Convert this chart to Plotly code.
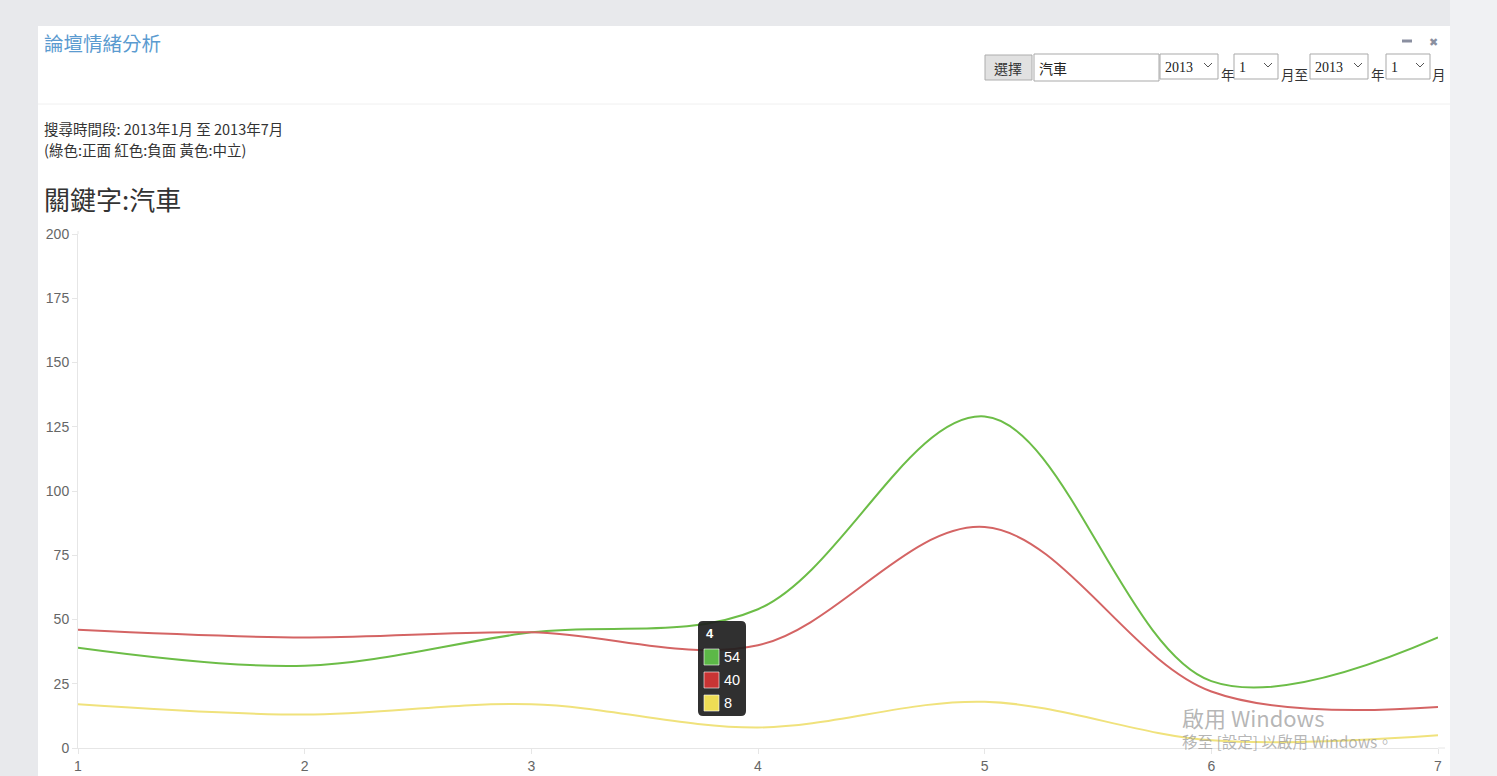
import plotly.graph_objects as go

# ---- data ----
months = [1, 2, 3, 4, 5, 6, 7]
positive = [39, 32, 45, 54, 129, 26, 43]   # green
negative = [46, 43, 45, 40, 86, 22, 16]    # red
neutral = [17, 13, 17, 8, 18, 3, 5]        # yellow
y_ticks = [0, 25, 50, 75, 100, 125, 150, 175, 200]
hover_month = 4

W, H = 1497, 776
L, R, T, B = 78, 1438, 234, 748  # plot area in pixels


def px(x):
    return (x - L) / (R - L)


def py(y):
    return (B - y) / (B - T)


GREEN = "#6cbd47"
RED = "#d46464"
YELLOW = "#f0e27c"

fig = go.Figure()
for vals, col, name in [(positive, GREEN, "正面"), (negative, RED, "負面"), (neutral, YELLOW, "中立")]:
    fig.add_trace(go.Scatter(
        x=months, y=vals, mode="lines", name=name,
        line=dict(color=col, width=2, shape="spline", smoothing=1.0),
        hoverinfo="skip",
    ))

shapes = []
annotations = []

# page background (lighter on the right of the panel)
shapes.append(dict(type="rect", xref="paper", yref="paper", layer="below",
                   x0=px(1450), x1=px(1497), y0=py(776), y1=py(0),
                   fillcolor="#f0f1f3", line=dict(width=0)))
# white panel
shapes.append(dict(type="rect", xref="paper", yref="paper", layer="below",
                   x0=px(38), x1=px(1450), y0=py(776), y1=py(26),
                   fillcolor="white", line=dict(width=0)))
# header separator
shapes.append(dict(type="line", xref="paper", yref="paper", layer="below",
                   x0=px(38), x1=px(1450), y0=py(104), y1=py(104),
                   line=dict(color="#f0f0f0", width=1)))
# axis line extensions
shapes.append(dict(type="line", xref="paper", yref="paper", layer="below",
                   x0=px(1438), x1=px(1445), y0=0, y1=0,
                   line=dict(color="#e6e6e6", width=1)))
shapes.append(dict(type="line", xref="paper", yref="paper", layer="below",
                   x0=0, x1=0, y0=1, y1=py(231),
                   line=dict(color="#e6e6e6", width=1)))

CJK = "Noto Sans CJK TC"


def text(x, y, s, size, color="#333", font=CJK, anchor="left"):
    annotations.append(dict(xref="paper", yref="paper", x=px(x), y=py(y), text=s,
                            showarrow=False, xanchor=anchor, yanchor="middle",
                            font=dict(size=size, color=color, family=font)))


# header
text(42, 42, "論壇情緒分析", 19.5, "#5b9bd0")
text(42, 128, "搜尋時間段: 2013年1月 至 2013年7月", 14.5, "#333")
text(42, 150, "(綠色:正面 紅色:負面 黃色:中立)", 14.5, "#333")
text(42, 198, "關鍵字:汽車", 26, "#333")

# minimize / close icons
shapes.append(dict(type="line", xref="paper", yref="paper",
                   x0=px(1402), x1=px(1412), y0=py(41), y1=py(41),
                   line=dict(color="#8a8fa0", width=3)))
text(1433, 42, "✖", 11, "#8a8fa0", "DejaVu Sans", "center")

# controls
def box(x0, y0, x1, y1, fill="white", border="#a9a9a9"):
    shapes.append(dict(type="rect", xref="paper", yref="paper",
                       x0=px(x0), x1=px(x1), y0=py(y1), y1=py(y0),
                       fillcolor=fill, line=dict(color=border, width=1)))


def chevron(cx, cy):
    shapes.append(dict(type="path", xref="paper", yref="paper",
                       path=f"M {px(cx-4)} {py(cy-2)} L {px(cx)} {py(cy+2)} L {px(cx+4)} {py(cy-2)}",
                       line=dict(color="#555", width=1)))


box(985, 55, 1032, 80, "#e1e1e1", "#adadad")
text(1008, 68, "選擇", 14, "#333", CJK, "center")
box(1034, 54, 1159, 81)
text(1037, 68, "汽車", 14, "#222")
for x0, x1, label in [(1160, 1218, "2013"), (1234, 1278, "1"), (1310, 1368, "2013"), (1386, 1430, "1")]:
    box(x0, 54, x1, 79)
    text(x0 + 3, 67, label, 14, "#222", "Liberation Serif")
    chevron(x1 - 10, 65)
text(1219, 74, "年", 13.5, "#333")
text(1279, 74, "月至", 13.5, "#333")
text(1369, 74, "年", 13.5, "#333")
text(1430, 74, "月", 13.5, "#333")

# tooltip
i = months.index(hover_month)
tx0, tx1, ty0, ty1, r = 698, 746, 621, 716, 5
rx = r / (R - L)
ry = r / (B - T)
X0, X1, Y0, Y1 = px(tx0), px(tx1), py(ty1), py(ty0)
path = (f"M {X0+rx} {Y0} L {X1-rx} {Y0} Q {X1} {Y0} {X1} {Y0+ry} L {X1} {Y1-ry} "
        f"Q {X1} {Y1} {X1-rx} {Y1} L {X0+rx} {Y1} Q {X0} {Y1} {X0} {Y1-ry} "
        f"L {X0} {Y0+ry} Q {X0} {Y0} {X0+rx} {Y0} Z")
shapes.append(dict(type="path", xref="paper", yref="paper", path=path,
                   fillcolor="rgba(30,30,30,0.92)", line=dict(width=0)))
text(704, 633, f"<b>{hover_month}</b>", 13, "white", "Liberation Sans")
for k, (vals, col) in enumerate([(positive, "#5cb847"), (negative, "#c83434"), (neutral, "#eedd55")]):
    yc = 657 + 23 * k
    box(704, yc - 8, 719, yc + 8, col, "rgba(255,255,255,0.6)")
    text(722, yc, str(vals[i]), 14.5, "white", "Liberation Sans")

# Windows watermark
text(1180, 717, "啟用 Windows", 22, "rgba(150,150,150,0.7)")
text(1180, 741, "移至 [設定] 以啟用 Windows。", 15.5, "rgba(150,150,150,0.7)")

fig.update_layout(
    width=W, height=H, autosize=False,
    margin=dict(l=L, r=W - R, t=T, b=H - B, pad=0, autoexpand=False),
    paper_bgcolor="#e8e9ec", plot_bgcolor="white",
    showlegend=False,
    shapes=shapes, annotations=annotations,
    xaxis=dict(range=[1, 7], tickmode="array", tickvals=months, ticktext=[str(m) for m in months],
               automargin=False,
               showgrid=False, zeroline=False, showline=True, linecolor="#e6e6e6", linewidth=1,
               ticks="outside", ticklen=5, tickcolor="#e6e6e6",
               tickfont=dict(family="Liberation Sans", size=14, color="#666")),
    yaxis=dict(range=[0, 200], tickmode="array", tickvals=y_ticks,
               automargin=False,
               showgrid=False, zeroline=False, showline=True, linecolor="#e6e6e6", linewidth=1,
               ticks="outside", ticklen=5, tickcolor="#e6e6e6",
               tickfont=dict(family="Liberation Sans", size=14, color="#666")),
)

fig.write_html("out.html")
